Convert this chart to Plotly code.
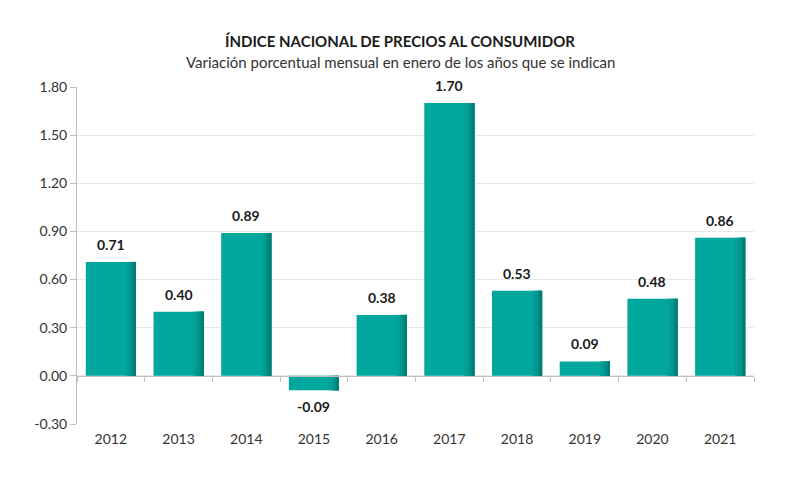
"""
INPC - variacion porcentual mensual en enero
"""

import plotly.graph_objects as go

years = ["2012", "2013", "2014", "2015", "2016", "2017", "2018", "2019", "2020", "2021"]
variacion = [0.71, 0.40, 0.89, -0.09, 0.38, 1.70, 0.53, 0.09, 0.48, 0.86]
y_ticks = [-0.30, 0.00, 0.30, 0.60, 0.90, 1.20, 1.50, 1.80]

TEAL = "#02A89E"
FONT = "Lato"
BAR_W = 0.74

# the page puts the div 8px in from the corner, margins make up for it
M_L, M_R, M_T, M_B = 69, 54, 79, 65
W, H = 800, 481

fig = go.Figure()

# main bars
fig.add_trace(go.Bar(
    x=years, y=variacion, width=BAR_W, marker_color=TEAL,
    marker_line_width=0, hoverinfo="x+y",
))

# darker strips on the right side to fake the shading of the original
for w, col in [(0.15, "#02A097"), (0.10, "#01958C"), (0.06, "#018981"), (0.03, "#017C75")]:
    fig.add_trace(go.Bar(
        x=years, y=variacion, width=w, offset=BAR_W / 2 - w,
        marker_color=col, marker_line_width=0, hoverinfo="skip",
        xaxis="x2",
    ))

# value labels (x by category index, "2012" would be read as a number)
for i, v in enumerate(variacion):
    fig.add_annotation(
        x=i, y=v, text=f"<b>{v:.2f}</b>", showarrow=False,
        yanchor="bottom" if v >= 0 else "top", yshift=7 if v >= 0 else -6,
        font=dict(family=FONT, size=14, color="#1a1a1a"),
    )

plot_w = W - M_L - M_R
plot_h = H - M_T - M_B


def px_to_paper_y(y_px):
    return 1 + (M_T - y_px) / plot_h


# titles centred on the page, not on the plot area
title_x = (W / 2 - 8 - M_L) / plot_w

fig.add_annotation(
    text="<b>ÍNDICE NACIONAL DE PRECIOS AL CONSUMIDOR</b>",
    x=title_x, y=px_to_paper_y(33), xref="paper", yref="paper", showarrow=False,
    yanchor="middle", font=dict(family=FONT, size=15, color="#1a1a1a"))
fig.add_annotation(
    text="Variación porcentual mensual en enero de los años que se indican",
    x=title_x, y=px_to_paper_y(54), xref="paper", yref="paper", showarrow=False,
    yanchor="middle", font=dict(family=FONT, size=15, color="#333333"))

fig.update_layout(
    barmode="overlay",
    showlegend=False,
    width=W, height=H,
    margin=dict(l=M_L, r=M_R, t=M_T, b=M_B),
    paper_bgcolor="white", plot_bgcolor="white",
    font=dict(family=FONT, size=13, color="#333333"),
    xaxis=dict(
        type="category", showline=False, ticks="", showgrid=False,
        range=[-0.5, len(years) - 0.5], ticklabelstandoff=5,
        tickfont=dict(family=FONT, size=14, color="#333333"),
    ),
    xaxis2=dict(
        type="category", overlaying="x", matches="x", anchor="free",
        position=0.3 / 2.1, showline=True, linecolor="#BFBFBF", linewidth=1,
        ticks="outside", tickson="boundaries", ticklen=5, tickcolor="#BFBFBF",
        showticklabels=False, showgrid=False,
    ),
    yaxis=dict(
        range=[-0.30, 1.80], tickvals=y_ticks,
        ticktext=[f"{t:.2f}" for t in y_ticks],
        showline=True, linecolor="#BFBFBF", ticks="outside", ticklen=6,
        tickcolor="#BFBFBF", gridcolor="#E8E8E8", zeroline=False,
        tickfont=dict(family=FONT, size=14, color="#333333"),
    ),
)

fig.write_html("out.html")
